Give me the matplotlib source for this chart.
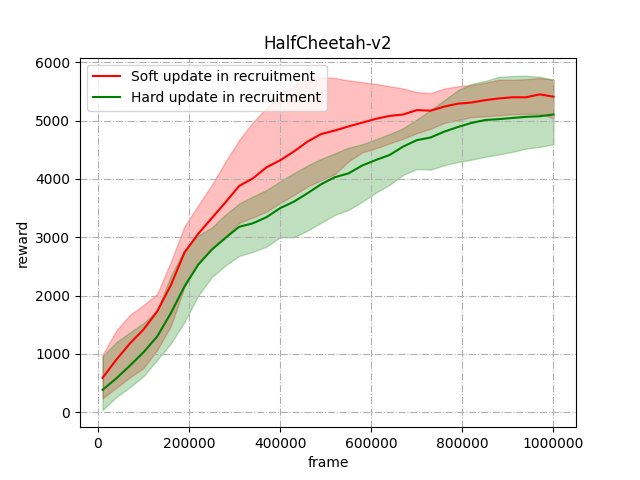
import numpy as np
import matplotlib
matplotlib.use("Agg")
import matplotlib.pyplot as plt

# frames (every 30000 steps)
frames = np.arange(10000, 1000001, 30000)

# soft update: mean and band
soft_mean = [590, 900, 1180, 1420, 1730, 2180, 2740, 3060, 3330, 3600, 3880, 4010,
             4200, 4320, 4470, 4640, 4770, 4830, 4900, 4965, 5030, 5080, 5105, 5180,
             5170, 5240, 5290, 5310, 5350, 5380, 5400, 5400, 5450, 5410]
soft_upper = [990, 1400, 1670, 1840, 2030, 2580, 3190, 3550, 3900, 4300, 4670, 4970,
              5220, 5430, 5590, 5700, 5750, 5730, 5690, 5660, 5630, 5590, 5550, 5490,
              5470, 5550, 5590, 5610, 5650, 5700, 5700, 5710, 5730, 5700]
soft_lower = [240, 420, 600, 760, 1070, 1480, 2150, 2560, 2800, 3010, 3250, 3340,
              3440, 3590, 3725, 3870, 3980, 4085, 4300, 4455, 4525, 4610, 4690, 4785,
              4860, 4960, 5010, 5060, 5075, 5090, 5110, 5115, 5115, 5040]

# hard update: mean and band
hard_mean = [385, 580, 800, 1030, 1300, 1700, 2160, 2530, 2790, 2990, 3180, 3240,
             3345, 3500, 3610, 3755, 3910, 4030, 4095, 4230, 4325, 4410, 4555, 4665,
             4710, 4810, 4890, 4960, 5010, 5025, 5045, 5065, 5075, 5105]
hard_upper = [960, 1200, 1370, 1530, 1750, 2340, 2790, 3030, 3170, 3390, 3580, 3700,
              3810, 3960, 4100, 4230, 4345, 4440, 4535, 4595, 4680, 4770, 4870, 5020,
              5180, 5350, 5520, 5630, 5680, 5750, 5765, 5770, 5750, 5700]
hard_lower = [40, 260, 430, 620, 900, 1180, 1550, 2000, 2320, 2520, 2680, 2750,
              2840, 3000, 3000, 3115, 3250, 3385, 3470, 3610, 3765, 3900, 4070, 4170,
              4160, 4235, 4290, 4330, 4380, 4420, 4465, 4520, 4550, 4595]

plt.figure(figsize=(6.4, 4.8), dpi=100)
plt.plot(frames, soft_mean, color='red', label='Soft update in recruitment')
plt.fill_between(frames, soft_lower, soft_upper, color='red', alpha=0.25)
plt.plot(frames, hard_mean, color='green', label='Hard update in recruitment')
plt.fill_between(frames, hard_lower, hard_upper, color='green', alpha=0.25)

plt.title('HalfCheetah-v2')
plt.xlabel('frame')
plt.ylabel('reward')
plt.ylim(-255, 6080)
plt.ticklabel_format(axis='x', style='plain')
plt.legend(loc='upper left')
plt.grid(True, linestyle='-.')
plt.savefig('out.png')
